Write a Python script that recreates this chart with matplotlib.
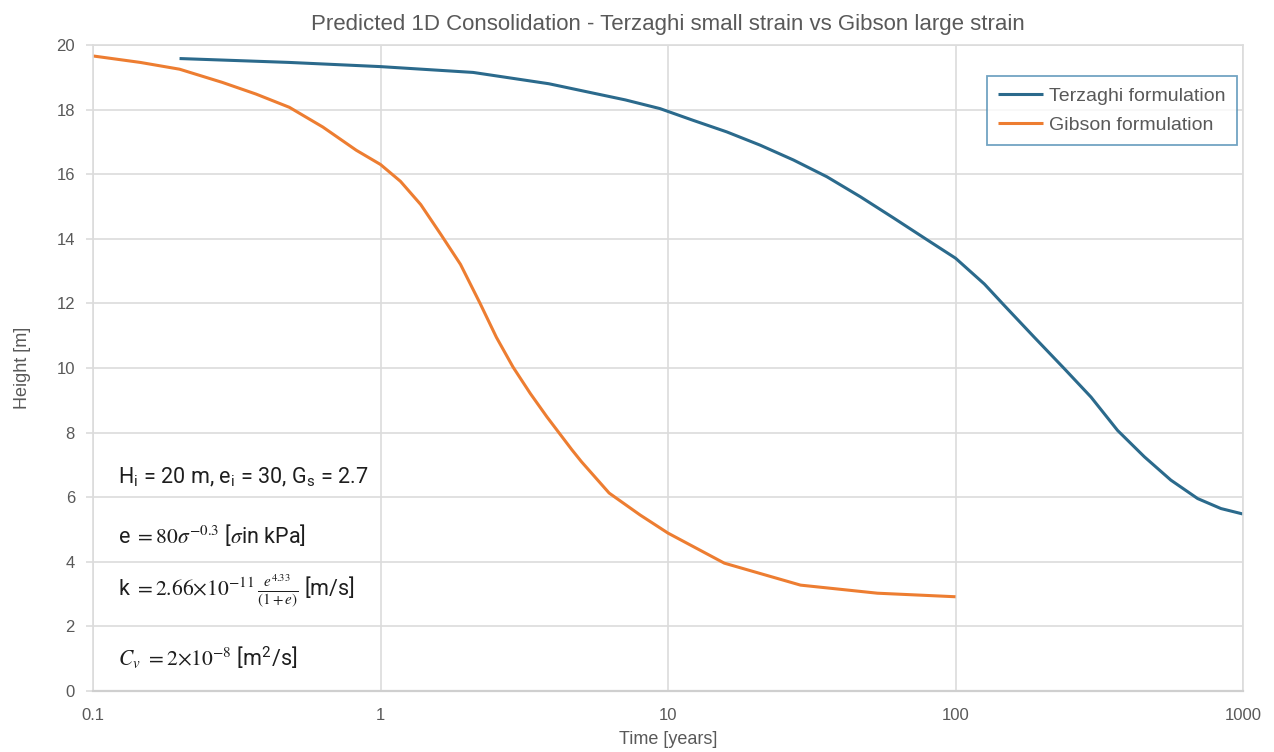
import matplotlib
matplotlib.use("Agg")
import matplotlib.pyplot as plt
from matplotlib.ticker import FixedLocator, FixedFormatter, NullLocator

# ---- data ----
terz_t = [0.2, 0.48, 1.0, 2.1, 3.85, 7.1, 9.38, 12.2, 16.0, 20.9, 27.3, 35.7, 46.7,
          61.0, 79.6, 100, 126, 148, 188, 239, 296, 366, 454, 561, 695, 838, 1000]
terz_h = [19.58, 19.46, 19.33, 19.15, 18.8, 18.3, 18.03, 17.67, 17.31, 16.9, 16.44,
          15.92, 15.3, 14.64, 13.97, 13.4, 12.6, 11.93, 10.95, 9.98, 9.1, 8.07, 7.25,
          6.53, 5.96, 5.65, 5.48]

gib_t = [0.1, 0.146, 0.2, 0.282, 0.369, 0.482, 0.63, 0.824, 1.0, 1.173, 1.38, 1.62,
         1.897, 2.22, 2.53, 2.89, 3.32, 3.79, 4.63, 5.0, 6.24, 8.0, 10, 15.7, 20, 28.9,
         53.5, 100]
gib_h = [19.66, 19.46, 19.25, 18.84, 18.48, 18.07, 17.46, 16.74, 16.3, 15.78, 15.06,
         14.14, 13.21, 12.0, 10.95, 10.03, 9.21, 8.49, 7.47, 7.1, 6.13, 5.45, 4.89, 3.96,
         3.69, 3.28, 3.03, 2.92]

x_ticks = [0.1, 1, 10, 100, 1000]
x_tick_labels = ["0.1", "1", "10", "100", "1000"]
y_ticks = list(range(0, 21, 2))

series_names = ["Terzaghi formulation", "Gibson formulation"]
title = "Predicted 1D Consolidation - Terzaghi small strain vs Gibson large strain"
x_label = "Time [years]"
y_label = "Height [m]"

notes = [
    r"H$_\mathregular{i}$ = 20 m, e$_\mathregular{i}$ = 30, G$_\mathregular{s}$ = 2.7",
    r"e $= 80\sigma^{-0.3}$ [$\sigma$in kPa]",
    r"k $= 2.66{\times}10^{-11}\,\frac{e^{4.33}}{(1+e)}$ [m/s]",
    r"$C_v$ $= 2{\times}10^{-8}$ [m$^\mathregular{2}$/s]",
]
note_y = [6.62, 4.83, 3.1, 1.02]

# ---- style ----
plt.rcParams["font.family"] = ["Liberation Sans", "DejaVu Sans"]
plt.rcParams["mathtext.fontset"] = "stix"

BLUE = "#2b6a8c"
ORANGE = "#ed7d31"
GRID = "#dcdcdc"
TXT = "#595959"

fig = plt.figure(figsize=(12.74, 7.52), dpi=100)
ax = fig.add_axes([0.073, 0.081, 0.9027, 0.8592])

ax.plot(terz_t, terz_h, color=BLUE, lw=2.2, label=series_names[0],
        solid_capstyle="butt", solid_joinstyle="round")
ax.plot(gib_t, gib_h, color=ORANGE, lw=2.2, label=series_names[1],
        solid_capstyle="butt", solid_joinstyle="round")

ax.set_xscale("log")
ax.set_xlim(0.1, 1000)
ax.set_ylim(0, 20)
ax.xaxis.set_major_locator(FixedLocator(x_ticks))
ax.xaxis.set_major_formatter(FixedFormatter(x_tick_labels))
ax.xaxis.set_minor_locator(NullLocator())
ax.set_yticks(y_ticks)

ax.grid(True, color=GRID, lw=1.2)
ax.set_axisbelow(True)
for s in ax.spines.values():
    s.set_color(GRID)
    s.set_linewidth(1.2)
ax.spines["bottom"].set_color("#cfcfcf")
ax.spines["bottom"].set_linewidth(1.6)

ax.tick_params(axis="both", colors=GRID, labelcolor=TXT, labelsize=12, length=5, width=1.2)
ax.tick_params(axis="x", length=0, pad=12)
ax.tick_params(axis="y", pad=8)

ax.set_title(title, color=TXT, fontsize=16, pad=11)
ax.set_xlabel(x_label, color=TXT, fontsize=13, labelpad=6)
ax.set_ylabel(y_label, color=TXT, fontsize=13, labelpad=18)

leg = ax.legend(loc="upper right", bbox_to_anchor=(0.9948, 0.952), frameon=True,
                fancybox=False, fontsize=14, handlelength=2.3, handletextpad=0.3,
                borderpad=0.6, labelspacing=0.55, borderaxespad=0)
leg.get_frame().set_edgecolor("#4f8db3")
leg.get_frame().set_linewidth(1.3)
for t in leg.get_texts():
    t.set_color(TXT)

for txt, yy in zip(notes, note_y):
    ax.text(0.122, yy, txt, fontsize=15.5, color="#1e1e1e", va="center", ha="left",
            family=["Roboto", "DejaVu Sans"], fontweight="normal")

fig.savefig("out.png", dpi=100, facecolor="white")
